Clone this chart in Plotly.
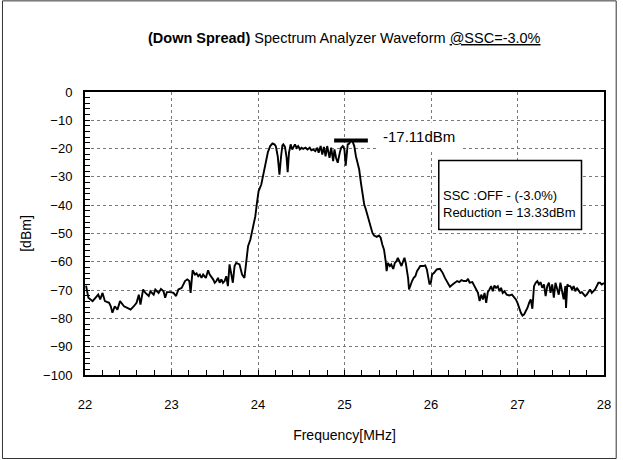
import plotly.graph_objects as go

# ---- data ----
freq_mhz = [
    22.012, 22.039, 22.088, 22.127, 22.153, 22.176, 22.203, 22.230, 22.260, 22.279,
    22.298, 22.317, 22.344, 22.375, 22.405, 22.432, 22.451, 22.489, 22.527, 22.565,
    22.596, 22.622, 22.641, 22.672, 22.699, 22.737, 22.756, 22.794, 22.813, 22.851,
    22.878, 22.908, 22.927, 22.947, 22.985, 23.023, 23.053, 23.080, 23.118, 23.156,
    23.183, 23.206, 23.221, 23.244, 23.271, 23.290, 23.309, 23.328, 23.347, 23.366,
    23.397, 23.423, 23.442, 23.481, 23.500, 23.519, 23.538, 23.557, 23.576, 23.595,
    23.614, 23.633, 23.652, 23.671, 23.690, 23.709, 23.729, 23.748, 23.786, 23.816,
    23.843, 23.862, 23.885, 23.912, 23.939, 23.969, 23.988, 24.007, 24.038, 24.064,
    24.091, 24.114, 24.141, 24.167, 24.190, 24.206, 24.228, 24.248, 24.267, 24.282,
    24.293, 24.312, 24.331, 24.343, 24.358, 24.377, 24.396, 24.411, 24.427, 24.446,
    24.465, 24.484, 24.503, 24.522, 24.549, 24.572, 24.598, 24.617, 24.637, 24.663,
    24.686, 24.701, 24.724, 24.743, 24.762, 24.781, 24.800, 24.827, 24.846, 24.869,
    24.884, 24.903, 24.922, 24.945, 24.961, 24.980, 24.999, 25.014, 25.037, 25.056,
    25.072, 25.095, 25.113, 25.132, 25.151, 25.170, 25.190, 25.209, 25.228, 25.247,
    25.266, 25.285, 25.304, 25.323, 25.342, 25.373, 25.399, 25.418, 25.437, 25.457,
    25.476, 25.487, 25.502, 25.525, 25.540, 25.563, 25.582, 25.601, 25.617, 25.640,
    25.659, 25.678, 25.693, 25.708, 25.723, 25.735, 25.746, 25.762, 25.781, 25.800,
    25.819, 25.838, 25.857, 25.876, 25.907, 25.933, 25.952, 25.964, 25.983, 25.998,
    26.013, 26.036, 26.066, 26.104, 26.135, 26.161, 26.188, 26.219, 26.249, 26.276,
    26.302, 26.325, 26.352, 26.379, 26.409, 26.428, 26.447, 26.478, 26.505, 26.524,
    26.543, 26.562, 26.581, 26.600, 26.619, 26.638, 26.657, 26.676, 26.695, 26.714,
    26.733, 26.752, 26.772, 26.791, 26.810, 26.829, 26.848, 26.875, 26.905, 26.936,
    26.962, 26.981, 27.000, 27.019, 27.039, 27.058, 27.077, 27.096, 27.115, 27.134,
    27.153, 27.172, 27.191, 27.210, 27.229, 27.248, 27.267, 27.286, 27.306, 27.325,
    27.344, 27.363, 27.382, 27.401, 27.420, 27.439, 27.458, 27.477, 27.496, 27.515,
    27.534, 27.553, 27.561, 27.576, 27.592, 27.611, 27.630, 27.649, 27.668, 27.687,
    27.706, 27.725, 27.744, 27.763, 27.782, 27.801, 27.820, 27.839, 27.859, 27.878,
    27.897, 27.916, 27.935, 27.954, 27.973, 28.000,
]
level_dbm = [
    -68.4, -72.7, -73.9, -72.7, -71.6, -73.3, -71.0, -73.9, -74.3, -74.5,
    -75.7, -78.0, -75.7, -76.9, -73.9, -75.1, -75.7, -76.3, -76.9, -75.7,
    -74.5, -71.6, -75.1, -69.8, -71.0, -72.1, -70.4, -71.6, -69.8, -71.0,
    -69.6, -70.4, -72.7, -70.7, -70.7, -71.0, -72.1, -69.8, -69.2, -66.8,
    -66.2, -66.8, -71.0, -63.0, -64.5, -64.1, -65.1, -64.5, -65.7, -64.5,
    -65.7, -63.0, -64.5, -66.2, -67.4, -66.8, -65.7, -67.4, -66.2, -67.4,
    -66.8, -65.1, -68.6, -60.9, -65.1, -67.4, -61.5, -60.4, -60.9, -64.5,
    -65.7, -60.9, -54.5, -52.1, -48.6, -43.9, -39.2, -35.0, -32.7, -28.6,
    -23.9, -21.3, -19.1, -18.2, -18.5, -19.1, -22.7, -29.2, -22.7, -18.9,
    -18.5, -19.4, -23.3, -28.3, -21.5, -18.5, -20.3, -19.1, -18.5, -19.7,
    -19.1, -20.3, -19.7, -20.1, -19.7, -20.3, -19.7, -20.6, -20.3, -20.9,
    -19.7, -21.5, -19.1, -22.1, -19.4, -22.7, -19.1, -23.3, -19.7, -24.4,
    -20.3, -23.3, -25.0, -21.5, -19.7, -19.1, -20.3, -26.0, -18.5, -18.2,
    -17.1, -17.6, -19.1, -22.7, -25.6, -27.4, -32.1, -35.6, -39.8, -41.5,
    -43.6, -45.1, -47.4, -49.8, -50.7, -51.2, -50.7, -51.5, -53.9, -55.7,
    -59.8, -63.3, -60.4, -61.5, -60.9, -62.5, -60.4, -59.8, -58.6, -60.4,
    -61.5, -59.8, -58.6, -60.4, -62.7, -65.7, -69.8, -68.0, -66.8, -65.7,
    -65.1, -63.3, -62.1, -61.5, -61.5, -61.3, -62.7, -65.1, -68.0, -67.4,
    -64.5, -63.9, -62.7, -62.5, -63.9, -65.7, -67.4, -68.8, -68.0, -67.4,
    -66.8, -67.2, -66.5, -66.8, -66.8, -66.0, -67.4, -67.2, -68.6, -69.8,
    -71.0, -73.9, -71.6, -73.3, -71.0, -74.5, -70.7, -69.8, -68.6, -70.4,
    -68.4, -69.2, -68.6, -70.4, -69.2, -71.0, -70.4, -71.6, -71.9, -71.6,
    -72.4, -73.3, -74.5, -76.3, -78.0, -79.0, -78.6, -77.4, -76.3, -74.5,
    -73.3, -76.6, -68.6, -67.4, -66.8, -68.0, -67.2, -69.2, -68.0, -72.1,
    -68.6, -67.4, -71.0, -68.0, -72.7, -67.4, -69.8, -71.6, -67.4, -70.4,
    -73.3, -68.6, -76.3, -68.0, -68.6, -68.6, -69.8, -68.6, -70.4, -69.2,
    -70.4, -71.0, -70.7, -71.6, -72.1, -71.6, -70.4, -69.8, -71.0, -70.4,
    -69.8, -68.6, -67.4, -67.4, -68.0, -67.5,
]

peak_bar_x = [24.88, 25.27]
peak_value = -17.11
peak_label = "-17.11dBm"
peak_label_pos = (25.86, -15.7)

info_box_x = [26.09, 27.74]
info_box_y = [-24.2, -48.6]
info_lines = ["SSC :OFF - (-3.0%)", "Reduction = 13.33dBm"]
info_text_pos = (26.11, -39.6)

x_range = [22, 28]
y_range = [-100, 0]

title_bold = "(Down Spread)"
title_plain = " Spectrum Analyzer Waveform "
title_under = "@SSC=-3.0%"
x_title = "Frequency[MHz]"
y_title = "[dBm]"

FONT = "Liberation Sans, Arial, sans-serif"

fig = go.Figure()

fig.add_trace(go.Scatter(
    x=freq_mhz, y=level_dbm, mode="lines",
    line=dict(color="black", width=1.9),
    hoverinfo="skip", showlegend=False,
))

# peak marker bar
fig.add_trace(go.Scatter(
    x=peak_bar_x, y=[peak_value, peak_value], mode="lines",
    line=dict(color="black", width=4),
    hoverinfo="skip", showlegend=False,
))

fig.add_annotation(
    x=peak_label_pos[0], y=peak_label_pos[1], xref="x", yref="y",
    text=peak_label, showarrow=False,
    font=dict(family=FONT, size=15, color="black"),
    bgcolor="white", borderpad=5,
)

# info box
fig.add_shape(
    type="rect", xref="x", yref="y",
    x0=info_box_x[0], x1=info_box_x[1], y0=info_box_y[0], y1=info_box_y[1],
    line=dict(color="black", width=1.5), fillcolor="white", layer="above",
)
fig.add_annotation(
    x=info_text_pos[0], y=info_text_pos[1], xref="x", yref="y",
    text="<br>".join(info_lines), showarrow=False, align="left",
    xanchor="left", yanchor="middle",
    font=dict(family=FONT, size=13, color="black"),
)

# title
fig.add_annotation(
    x=0.5, y=1.19, xref="paper", yref="paper",
    text=f"<b>{title_bold}</b>{title_plain}<u>{title_under}</u>",
    showarrow=False, xanchor="center", yanchor="middle",
    font=dict(family=FONT, size=14.5, color="black"),
)

# outer border of the chart
fig.add_shape(
    type="rect", xref="paper", yref="paper",
    x0=-0.159, x1=1.0235, y0=-0.295, y1=1.322,
    line=dict(color="#333333", width=1), layer="below",
)

axis_common = dict(
    showline=True, linecolor="black", linewidth=2, mirror=True,
    showgrid=True, gridcolor="#7a7a7a", gridwidth=1, griddash="dot",
    zeroline=False, ticks="inside", ticklen=5, tickcolor="black", tickwidth=1,
    tickfont=dict(family=FONT, size=13, color="black"),
)

fig.update_xaxes(
    range=x_range, dtick=1, tick0=22,
    minor=dict(dtick=0.2, ticks="inside", ticklen=5, tickcolor="black", showgrid=False),
    title=dict(text=x_title, font=dict(family=FONT, size=14, color="black"), standoff=20),
    ticklabelstandoff=16,
    **axis_common,
)
fig.update_yaxes(
    range=y_range, dtick=10, tick0=0,
    minor=dict(dtick=2, ticks="inside", ticklen=5, tickcolor="black", showgrid=False),
    title=dict(text=y_title, font=dict(family=FONT, size=14, color="black"), standoff=8),
    ticklabelstandoff=8,
    **axis_common,
)

fig.update_layout(
    width=623, height=460,
    margin=dict(l=85, r=14, t=92, b=85),
    paper_bgcolor="white", plot_bgcolor="white",
    showlegend=False,
)

fig.write_html(
    "out.html",
    config={"displayModeBar": False, "staticPlot": True},
    post_script="document.body.style.margin='0';document.body.style.overflow='hidden';",
)
